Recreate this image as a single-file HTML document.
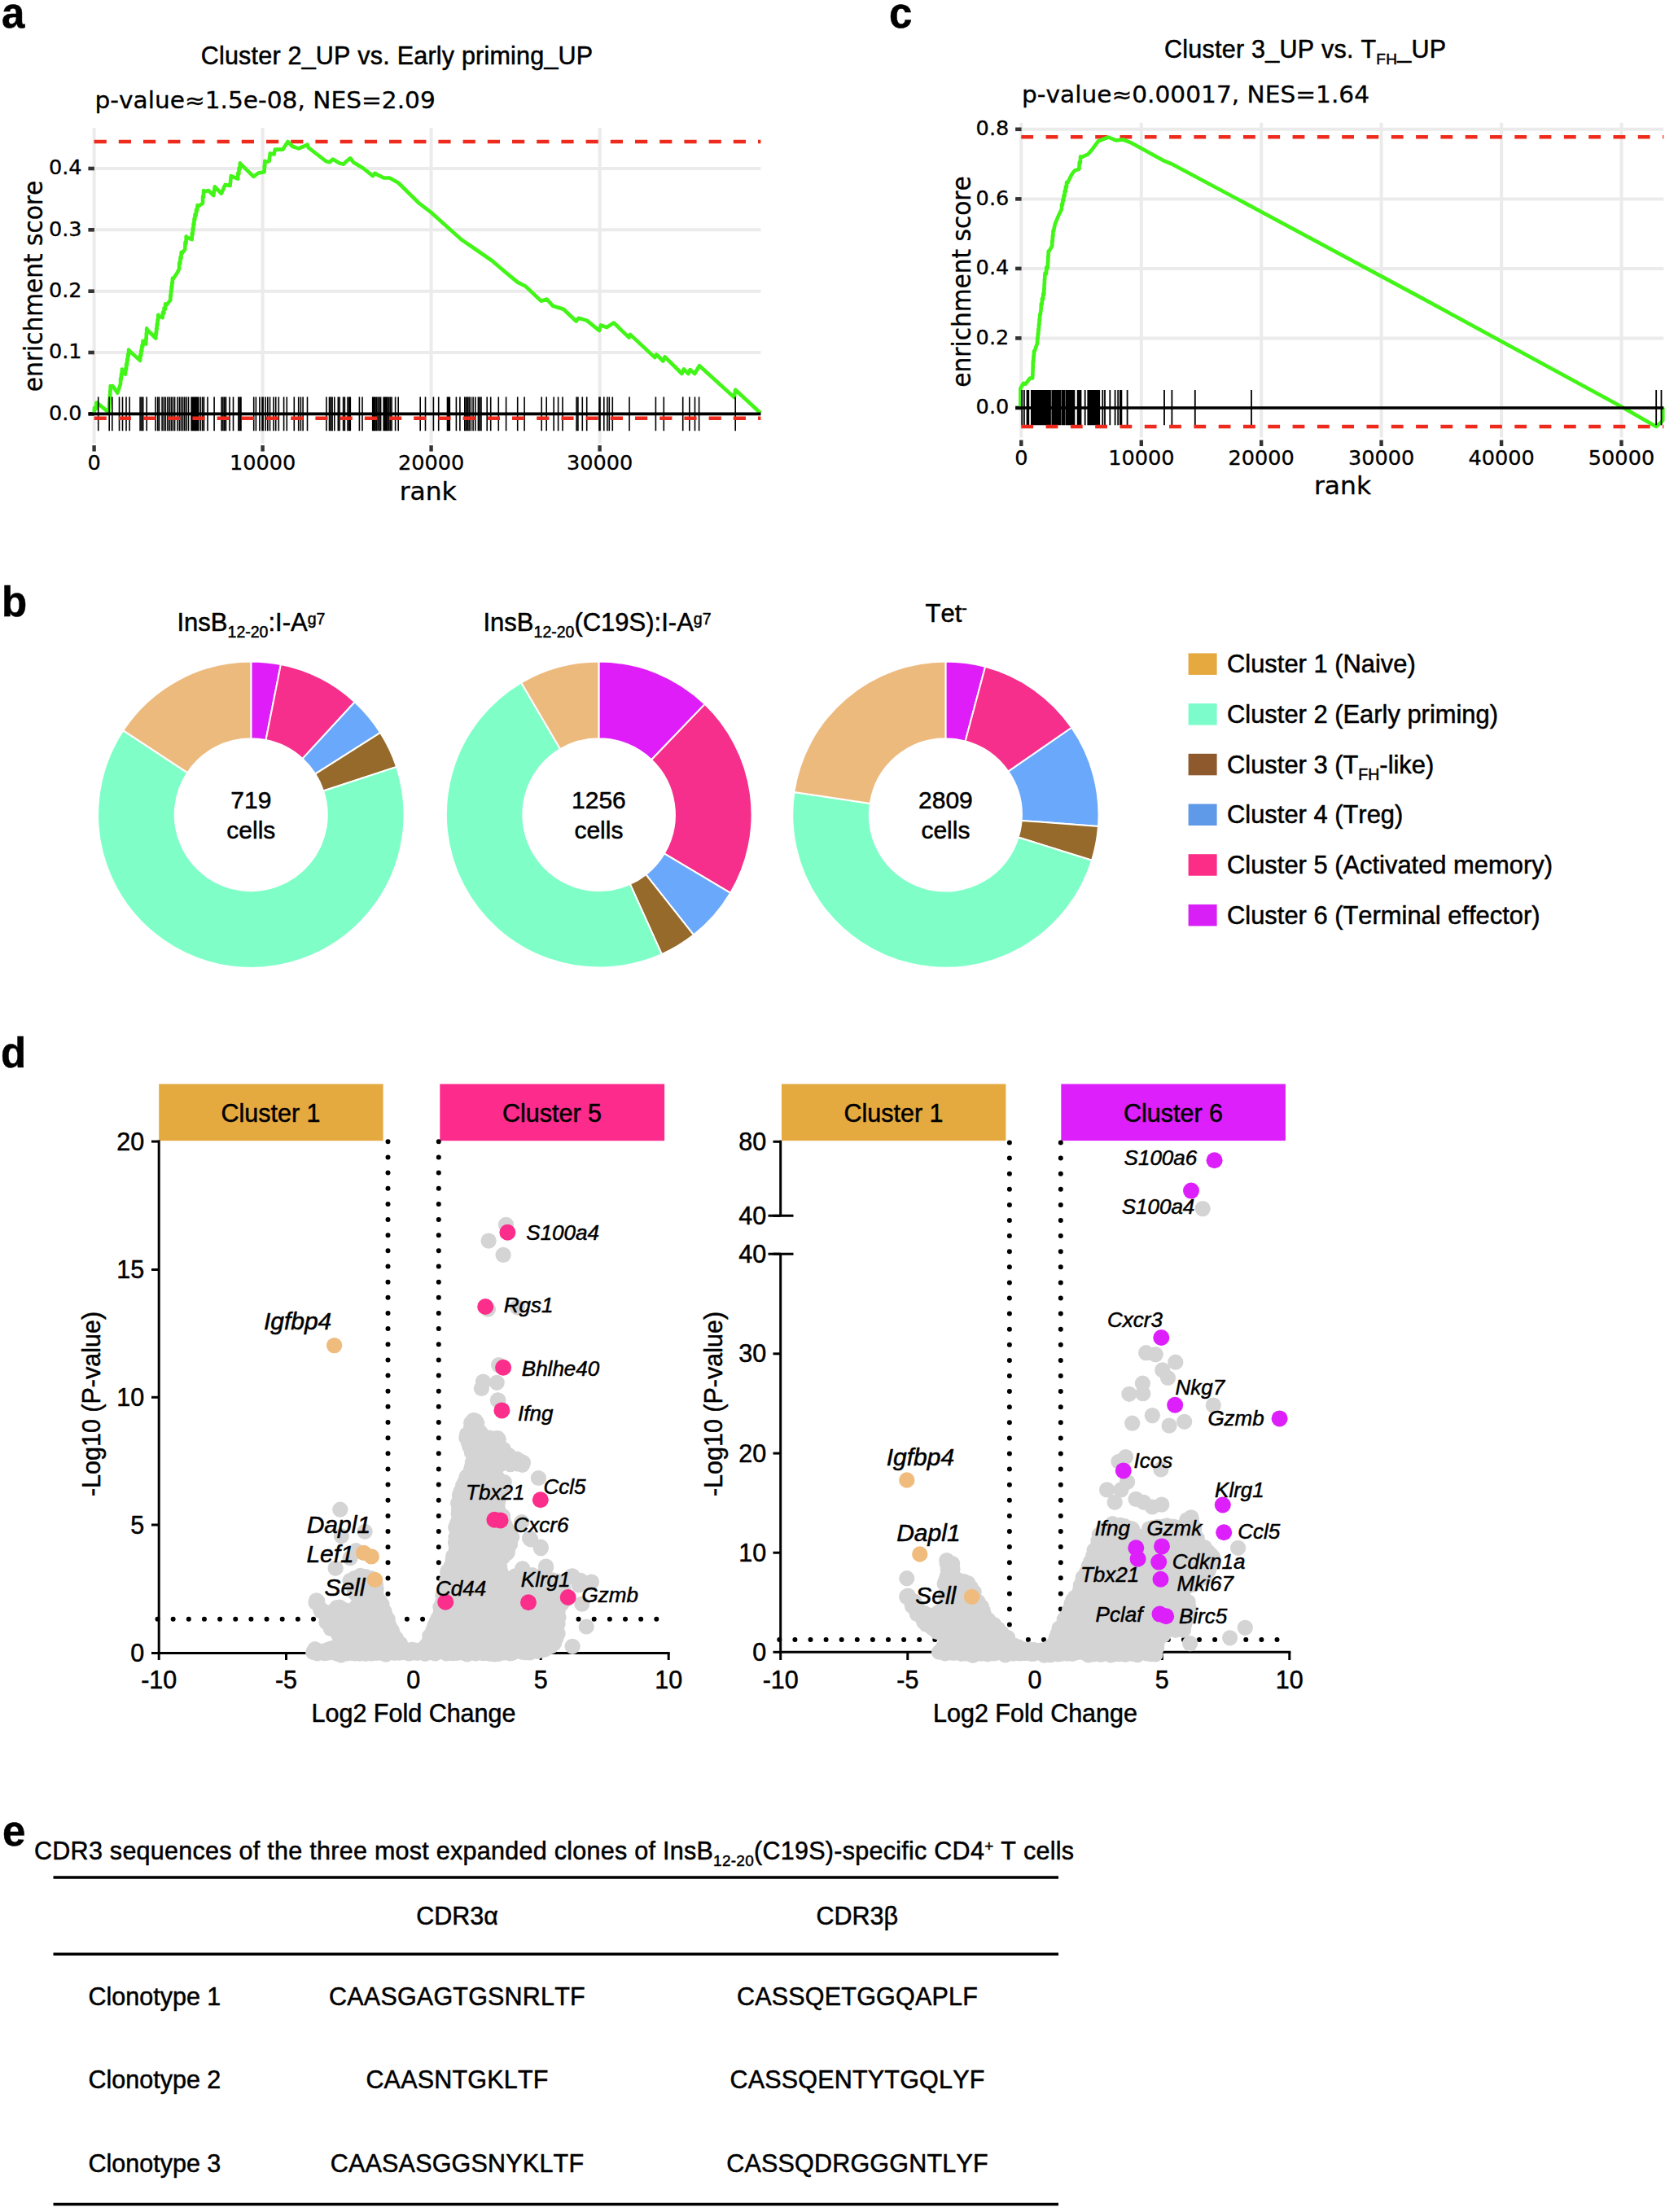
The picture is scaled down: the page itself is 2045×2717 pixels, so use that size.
<!DOCTYPE html>
<html lang="en"><head><meta charset="utf-8"><title>Figure</title>
<style>
html,body{margin:0;padding:0;background:#fff}
svg{display:block}
.a{font-family:"Liberation Sans", Arial, sans-serif;stroke:#000;stroke-width:.5px;stroke-linejoin:round}
.d{font-family:"DejaVu Sans", "Liberation Sans", sans-serif;stroke:#000;stroke-width:.3px}
text{fill:#000;white-space:pre;font-kerning:none}
</style></head><body>
<svg width="2045" height="2717" viewBox="0 0 2045 2717">
<rect width="2045" height="2717" fill="#fff"/>
<line x1="115.6" y1="157" x2="115.6" y2="545" stroke="#ebebeb" stroke-width="4"/>
<line x1="115.6" y1="547" x2="115.6" y2="554.5" stroke="#333" stroke-width="4.4"/>
<line x1="322.6" y1="157" x2="322.6" y2="545" stroke="#ebebeb" stroke-width="4"/>
<line x1="322.6" y1="547" x2="322.6" y2="554.5" stroke="#333" stroke-width="4.4"/>
<line x1="529.6" y1="157" x2="529.6" y2="545" stroke="#ebebeb" stroke-width="4"/>
<line x1="529.6" y1="547" x2="529.6" y2="554.5" stroke="#333" stroke-width="4.4"/>
<line x1="736.6" y1="157" x2="736.6" y2="545" stroke="#ebebeb" stroke-width="4"/>
<line x1="736.6" y1="547" x2="736.6" y2="554.5" stroke="#333" stroke-width="4.4"/>
<line x1="115.6" y1="508.4" x2="934.4" y2="508.4" stroke="#ebebeb" stroke-width="4"/>
<line x1="108.4" y1="508.4" x2="115.9" y2="508.4" stroke="#333" stroke-width="4.6"/>
<text transform="translate(100.6,515.7) scale(1.07,1)" font-size="23.9" class="d" text-anchor="end">0.0</text>
<line x1="115.6" y1="433" x2="934.4" y2="433" stroke="#ebebeb" stroke-width="4"/>
<line x1="108.4" y1="433" x2="115.9" y2="433" stroke="#333" stroke-width="4.6"/>
<text transform="translate(100.6,440.3) scale(1.07,1)" font-size="23.9" class="d" text-anchor="end">0.1</text>
<line x1="115.6" y1="357.7" x2="934.4" y2="357.7" stroke="#ebebeb" stroke-width="4"/>
<line x1="108.4" y1="357.7" x2="115.9" y2="357.7" stroke="#333" stroke-width="4.6"/>
<text transform="translate(100.6,365) scale(1.07,1)" font-size="23.9" class="d" text-anchor="end">0.2</text>
<line x1="115.6" y1="282.3" x2="934.4" y2="282.3" stroke="#ebebeb" stroke-width="4"/>
<line x1="108.4" y1="282.3" x2="115.9" y2="282.3" stroke="#333" stroke-width="4.6"/>
<text transform="translate(100.6,289.6) scale(1.07,1)" font-size="23.9" class="d" text-anchor="end">0.3</text>
<line x1="115.6" y1="207" x2="934.4" y2="207" stroke="#ebebeb" stroke-width="4"/>
<line x1="108.4" y1="207" x2="115.9" y2="207" stroke="#333" stroke-width="4.6"/>
<text transform="translate(100.6,214.3) scale(1.07,1)" font-size="23.9" class="d" text-anchor="end">0.4</text>
<line x1="115.6" y1="174" x2="934.4" y2="174" stroke="#ee2a1d" stroke-width="4.6" stroke-dasharray="15.2 15"/>
<path d="M115.6 508.5 L116 500.8 L118 502.1 L118.4 494.5 L120.4 495.8 L133.6 506.6 L133.7 500.1 L134 501.4 L134.1 494.9 L134.4 496.2 L134.5 489.7 L134.8 491 L134.9 484.4 L135.2 485.7 L135.3 479.2 L135.6 480.5 L135.7 474 L136 475.3 L138.4 474.1 L144.4 482.6 L148 471.7 L148.1 464.8 L148.8 466.1 L149 459.2 L149.7 460.5 L149.8 453.6 L150.5 454.9 L154.1 459.7 L154.2 452.6 L155.1 453.9 L155.2 446.9 L156 448.2 L156.2 441.1 L157 442.4 L157.1 435.4 L157.9 436.7 L158.1 429.6 L158.9 430.9 L172.1 442.9 L172.3 435.9 L173.2 437.2 L173.3 430.2 L174.2 431.5 L174.4 424.5 L175.3 425.8 L175.5 418.8 L176.4 420.1 L179.3 422.5 L179.4 415.3 L179.7 416.6 L179.8 409.3 L180.1 410.6 L180.2 403.4 L180.5 404.7 L191.3 415.5 L191.4 408.7 L192 410 L192.1 403.2 L192.7 404.5 L192.8 397.7 L193.5 399 L193.6 392.2 L194.2 393.5 L194.3 386.7 L194.9 388 L199.7 390.2 L199.9 383.7 L201.3 385 L201.5 378.5 L202.9 379.8 L203.1 373.3 L204.5 374.6 L209.3 368.6 L209.4 362.2 L209.9 363.5 L210 357.1 L210.5 358.4 L210.6 351.9 L211.2 353.2 L211.3 346.8 L211.8 348.1 L211.9 341.7 L212.4 343 L217.7 335 L220.1 330.2 L220.3 322.5 L221.3 323.8 L221.5 316.1 L222.5 317.4 L222.7 309.7 L223.7 311 L227.3 306.2 L227.5 297.6 L228.5 298.9 L228.7 290.4 L229.7 291.7 L235.7 294.1 L235.8 286.8 L236.6 288.1 L236.7 280.8 L237.5 282.1 L237.6 274.8 L238.4 276.1 L238.5 268.8 L239.3 270.1 L239.5 263.2 L240.8 264.5 L241 257.6 L242.2 258.9 L242.5 252 L243.7 253.3 L249 249.7 L249.1 241.2 L249.9 242.5 L250.1 234 L250.9 235.3 L256.2 234.1 L262.2 240.1 L263.8 229.3 L271.8 237.7 L276.6 226.9 L282.6 228.1 L283.8 216.1 L292.2 219.7 L292.4 212.4 L293.4 213.7 L293.6 206.4 L294.6 207.7 L294.8 200.4 L295.8 201.7 L311.4 216.8 L317.4 212.5 L324.6 211.3 L324.7 203.9 L325.2 205.2 L325.3 197.9 L325.8 199.2 L330.6 198 L331.8 188.4 L336.6 189.6 L337.8 183.6 L347.4 183.6 L353.5 174 L359.5 180 L366.7 182.4 L372.7 180 L377.5 177.6 L378.7 181.2 L400.3 198 L405.1 199.2 L408.7 195.6 L417.1 200.4 L421.9 201.7 L425.5 198 L430.3 194.4 L433.9 199.2 L445.9 206.5 L458 216.1 L460.4 212.9 L471.2 218.5 L478.4 218.5 L489.2 224.5 L514.6 249.5 L529.6 261 L566.5 294.1 L589.5 310 L604 320 L621 334.5 L635.7 346.6 L645.8 351.8 L664.5 369.7 L671.7 367.5 L679 375.7 L692 379.8 L707.7 394.5 L710.6 390.7 L720.7 393.6 L736 406 L738 399.4 L745.2 402.2 L753.9 396.5 L772.6 414.6 L774 410.9 L804.3 439.1 L806.3 435.4 L814.4 443.5 L816.7 438.3 L837.5 459 L839.8 453.3 L845.5 459 L847.5 454.1 L853.3 459 L859 449.2 L901.8 488.1 L903.2 478.7 L934.2 507.5" fill="none" stroke="#41f516" stroke-width="4.6" stroke-linejoin="round" stroke-linecap="butt"/>
<path d="M120.7 487.5V529.3M134.2 487.5V529.3M137.8 487.5V529.3M146.5 487.5V529.3M150.5 487.5V529.3M155 487.5V529.3M159.1 487.5V529.3M172.1 487.5V529.3M173.9 487.5V529.3M175.7 487.5V529.3M180.2 487.5V529.3M191 487.5V529.3M193.7 487.5V529.3M195.5 487.5V529.3M199.1 487.5V529.3M201.3 487.5V529.3M203.4 487.5V529.3M205.9 487.5V529.3M208.1 487.5V529.3M210.3 487.5V529.3M212.4 487.5V529.3M214.6 487.5V529.3M218 487.5V529.3M220.4 487.5V529.3M222.5 487.5V529.3M224.7 487.5V529.3M226.8 487.5V529.3M229 487.5V529.3M231.5 487.5V529.3M235.1 487.5V529.3M236.6 487.5V529.3M238 487.5V529.3M239.5 487.5V529.3M240.9 487.5V529.3M242.3 487.5V529.3M243.8 487.5V529.3M246.3 487.5V529.3M248.6 487.5V529.3M250.5 487.5V529.3M255 487.5V529.3M263.1 487.5V529.3M272.1 487.5V529.3M273.9 487.5V529.3M275.7 487.5V529.3M277.5 487.5V529.3M282 487.5V529.3M286.5 487.5V529.3M292.8 487.5V529.3M294.6 487.5V529.3M296 487.5V529.3M311.7 487.5V529.3M314.4 487.5V529.3M318.9 487.5V529.3M322 487.5V529.3M323.1 487.5V529.3M326.1 487.5V529.3M328.8 487.5V529.3M331.5 487.5V529.3M336 487.5V529.3M338.7 487.5V529.3M342.3 487.5V529.3M348.6 487.5V529.3M352.3 487.5V529.3M361.3 487.5V529.3M366.7 487.5V529.3M369.4 487.5V529.3M372.1 487.5V529.3M377.5 487.5V529.3M400.9 487.5V529.3M404.5 487.5V529.3M406.3 487.5V529.3M408.1 487.5V529.3M410.8 487.5V529.3M415.3 487.5V529.3M417.1 487.5V529.3M421.6 487.5V529.3M423.4 487.5V529.3M427 487.5V529.3M428.8 487.5V529.3M430.3 487.5V529.3M441.4 487.5V529.3M445 487.5V529.3M457.7 487.5V529.3M459.1 487.5V529.3M460.5 487.5V529.3M462.2 487.5V529.3M464 487.5V529.3M465.8 487.5V529.3M467.6 487.5V529.3M471.2 487.5V529.3M472.6 487.5V529.3M474.1 487.5V529.3M475.7 487.5V529.3M477.5 487.5V529.3M479.3 487.5V529.3M481.1 487.5V529.3M485.6 487.5V529.3M489.2 487.5V529.3M516.2 487.5V529.3M522.5 487.5V529.3M532.4 487.5V529.3M538.7 487.5V529.3M549.5 487.5V529.3M551 487.5V529.3M552.3 487.5V529.3M560.4 487.5V529.3M564.9 487.5V529.3M570.8 487.5V529.3M572.6 487.5V529.3M574.4 487.5V529.3M576.2 487.5V529.3M578.4 487.5V529.3M581.1 487.5V529.3M583.8 487.5V529.3M587.4 487.5V529.3M589.2 487.5V529.3M591 487.5V529.3M598.2 487.5V529.3M602.7 487.5V529.3M612.3 487.5V529.3M621.6 487.5V529.3M635.7 487.5V529.3M644.1 487.5V529.3M665.2 487.5V529.3M671.2 487.5V529.3M680.2 487.5V529.3M685.6 487.5V529.3M691 487.5V529.3M708.1 487.5V529.3M709.9 487.5V529.3M715.3 487.5V529.3M720.7 487.5V529.3M736 487.5V529.3M737 487.5V529.3M741.8 487.5V529.3M745.9 487.5V529.3M748.3 487.5V529.3M752.3 487.5V529.3M773 487.5V529.3M805.4 487.5V529.3M815.3 487.5V529.3M838.7 487.5V529.3M846.8 487.5V529.3M853.5 487.5V529.3M858.6 487.5V529.3M903.2 487.5V529.3" stroke="#000" stroke-width="1.6" fill="none"/>
<line x1="115.6" y1="513.8" x2="934.4" y2="513.8" stroke="#ee2a1d" stroke-width="4.6" stroke-dasharray="15.2 15"/>
<line x1="108.6" y1="508.4" x2="934.4" y2="508.4" stroke="#000" stroke-width="3.8"/>
<text transform="translate(115.6,577.4) scale(1.07,1)" font-size="23.9" class="d" text-anchor="middle">0</text>
<text transform="translate(322.6,577.4) scale(1.07,1)" font-size="23.9" class="d" text-anchor="middle">10000</text>
<text transform="translate(529.6,577.4) scale(1.07,1)" font-size="23.9" class="d" text-anchor="middle">20000</text>
<text transform="translate(736.6,577.4) scale(1.07,1)" font-size="23.9" class="d" text-anchor="middle">30000</text>
<text transform="translate(525.7,613.5) scale(1.07,1)" font-size="29.3" class="d" text-anchor="middle">rank</text>
<text transform="translate(52.4,351.5) scale(1.07,1) rotate(-90)" font-size="29.6" class="d" text-anchor="middle">enrichment score</text>
<text transform="translate(116.5,132.7) scale(1.07,1)" font-size="27.7" class="d">p-value≈1.5e-08, NES=2.09</text>
<text x="246.7" y="78.7" font-size="30.5" class="a" textLength="481.5" lengthAdjust="spacing">Cluster 2_UP vs. Early priming_UP</text>
<text x="2" y="34.2" font-size="51" class="a" font-weight="bold" stroke-width="0.2">a</text>
<line x1="1254.3" y1="150.8" x2="1254.3" y2="537.5" stroke="#ebebeb" stroke-width="4"/>
<line x1="1254.3" y1="540.5" x2="1254.3" y2="548.0" stroke="#333" stroke-width="4.4"/>
<line x1="1401.8" y1="150.8" x2="1401.8" y2="537.5" stroke="#ebebeb" stroke-width="4"/>
<line x1="1401.8" y1="540.5" x2="1401.8" y2="548.0" stroke="#333" stroke-width="4.4"/>
<line x1="1549.2" y1="150.8" x2="1549.2" y2="537.5" stroke="#ebebeb" stroke-width="4"/>
<line x1="1549.2" y1="540.5" x2="1549.2" y2="548.0" stroke="#333" stroke-width="4.4"/>
<line x1="1696.6" y1="150.8" x2="1696.6" y2="537.5" stroke="#ebebeb" stroke-width="4"/>
<line x1="1696.6" y1="540.5" x2="1696.6" y2="548.0" stroke="#333" stroke-width="4.4"/>
<line x1="1844.1" y1="150.8" x2="1844.1" y2="537.5" stroke="#ebebeb" stroke-width="4"/>
<line x1="1844.1" y1="540.5" x2="1844.1" y2="548.0" stroke="#333" stroke-width="4.4"/>
<line x1="1991.5" y1="150.8" x2="1991.5" y2="537.5" stroke="#ebebeb" stroke-width="4"/>
<line x1="1991.5" y1="540.5" x2="1991.5" y2="548.0" stroke="#333" stroke-width="4.4"/>
<line x1="1254.3" y1="501" x2="2043.3" y2="501" stroke="#ebebeb" stroke-width="4"/>
<line x1="1247.1" y1="501" x2="1254.6" y2="501" stroke="#333" stroke-width="4.6"/>
<text transform="translate(1239.3,508.3) scale(1.07,1)" font-size="23.9" class="d" text-anchor="end">0.0</text>
<line x1="1254.3" y1="415.4" x2="2043.3" y2="415.4" stroke="#ebebeb" stroke-width="4"/>
<line x1="1247.1" y1="415.4" x2="1254.6" y2="415.4" stroke="#333" stroke-width="4.6"/>
<text transform="translate(1239.3,422.8) scale(1.07,1)" font-size="23.9" class="d" text-anchor="end">0.2</text>
<line x1="1254.3" y1="329.9" x2="2043.3" y2="329.9" stroke="#ebebeb" stroke-width="4"/>
<line x1="1247.1" y1="329.9" x2="1254.6" y2="329.9" stroke="#333" stroke-width="4.6"/>
<text transform="translate(1239.3,337.2) scale(1.07,1)" font-size="23.9" class="d" text-anchor="end">0.4</text>
<line x1="1254.3" y1="244.4" x2="2043.3" y2="244.4" stroke="#ebebeb" stroke-width="4"/>
<line x1="1247.1" y1="244.4" x2="1254.6" y2="244.4" stroke="#333" stroke-width="4.6"/>
<text transform="translate(1239.3,251.7) scale(1.07,1)" font-size="23.9" class="d" text-anchor="end">0.6</text>
<line x1="1254.3" y1="158.8" x2="2043.3" y2="158.8" stroke="#ebebeb" stroke-width="4"/>
<line x1="1247.1" y1="158.8" x2="1254.6" y2="158.8" stroke="#333" stroke-width="4.6"/>
<text transform="translate(1239.3,166.1) scale(1.07,1)" font-size="23.9" class="d" text-anchor="end">0.8</text>
<line x1="1254.3" y1="168.3" x2="2043.3" y2="168.3" stroke="#ee2a1d" stroke-width="4.6" stroke-dasharray="14.8 15.5"/>
<path d="M1253.4 500 L1253.4 477.1 L1257 470.8 L1259.7 471.7 L1265.1 464.5 L1268.2 464.5 L1268.7 450.1 L1268.8 443.2 L1269.3 444.1 L1269.4 437.2 L1269.9 438.1 L1270 431.2 L1270.5 432.1 L1274.1 421.3 L1274.2 415 L1274.7 415.9 L1274.8 409.5 L1275.3 410.4 L1275.4 404.1 L1275.9 405 L1276 398.1 L1276.5 399 L1276.6 392.1 L1277.1 393 L1277.2 386.1 L1277.7 387 L1278.6 380 L1278.8 373 L1279.8 373.9 L1280 366.8 L1281.1 367.7 L1281.3 360.7 L1282.3 361.6 L1282.3 354.7 L1282.6 355.6 L1282.6 348.7 L1282.9 349.6 L1282.9 342.7 L1283.2 343.6 L1283.5 335.5 L1285 336.4 L1285.3 328.3 L1286.8 329.2 L1286.9 321.7 L1287.2 322.6 L1287.3 315.1 L1287.6 316 L1287.7 308.5 L1288 309.4 L1292.2 302.2 L1292.3 295.3 L1292.8 296.2 L1292.9 289.2 L1293.4 290.1 L1293.5 283.2 L1294 284.1 L1295.8 275.1 L1300.3 264.3 L1303.9 257.1 L1304.1 250.8 L1305.1 251.7 L1305.3 245.4 L1306.3 246.3 L1306.5 240 L1307.5 240.9 L1307.7 234.6 L1308.7 235.5 L1308.9 229.2 L1309.9 230.1 L1310.1 223.8 L1311.1 224.7 L1316.5 213.9 L1320.1 209.4 L1325.5 207.6 L1325.7 199.5 L1326.8 200.4 L1327.1 192.3 L1328.2 193.2 L1336.3 189.5 L1341.7 183.2 L1348.9 173.3 L1356.1 170.6 L1361.5 168.5 L1370.5 172.4 L1379.5 171.5 L1388.6 175.1 L1428.2 196.8 L1440.8 202.2 L1530 249.9 L1745 365.4 L1991.5 499.6 L2034.2 524 L2040.5 518.6 L2042.3 516 L2042.3 500.5" fill="none" stroke="#41f516" stroke-width="4.6" stroke-linejoin="round"/>
<line x1="1247.3" y1="501" x2="2043.3" y2="501" stroke="#000" stroke-width="3.6"/>
<path d="M1255.2 479V522.3M1257.9 479V522.3M1261.5 479V522.3M1263.3 479V522.3M1266.9 479V522.3M1268.7 479V522.3M1270 479V522.3M1271.3 479V522.3M1272.5 479V522.3M1273.8 479V522.3M1275 479V522.3M1276.3 479V522.3M1277.6 479V522.3M1278.8 479V522.3M1280.1 479V522.3M1281.4 479V522.3M1282.6 479V522.3M1283.9 479V522.3M1285 479V522.3M1286.2 479V522.3M1287.5 479V522.3M1288.7 479V522.3M1290 479V522.3M1292.3 479V522.3M1293.6 479V522.3M1294.9 479V522.3M1296.1 479V522.3M1297.4 479V522.3M1298.6 479V522.3M1299.9 479V522.3M1301.2 479V522.3M1302.4 479V522.3M1304.6 479V522.3M1305.9 479V522.3M1307.1 479V522.3M1309.3 479V522.3M1310.5 479V522.3M1311.8 479V522.3M1313.1 479V522.3M1314.3 479V522.3M1315.6 479V522.3M1316.8 479V522.3M1318.1 479V522.3M1319.4 479V522.3M1323.7 479V522.3M1325 479V522.3M1326.2 479V522.3M1327.5 479V522.3M1332.7 479V522.3M1336.3 479V522.3M1337.7 479V522.3M1339 479V522.3M1340.8 479V522.3M1342.6 479V522.3M1343.9 479V522.3M1345.1 479V522.3M1346.4 479V522.3M1347.7 479V522.3M1348.9 479V522.3M1350.2 479V522.3M1354.3 479V522.3M1357 479V522.3M1363.3 479V522.3M1369.6 479V522.3M1373.2 479V522.3M1375.9 479V522.3M1377.4 479V522.3M1384.6 479V522.3M1430 479V522.3M1439.4 479V522.3M1467.8 479V522.3M1537 479V522.3M2034.2 479V522.3M2040.5 479V522.3" stroke="#000" stroke-width="1.8" fill="none"/>
<line x1="1254.3" y1="524" x2="2043.3" y2="524" stroke="#ee2a1d" stroke-width="4.6" stroke-dasharray="14.8 15.5"/>
<text transform="translate(1254.3,571) scale(1.07,1)" font-size="23.9" class="d" text-anchor="middle">0</text>
<text transform="translate(1401.8,571) scale(1.07,1)" font-size="23.9" class="d" text-anchor="middle">10000</text>
<text transform="translate(1549.2,571) scale(1.07,1)" font-size="23.9" class="d" text-anchor="middle">20000</text>
<text transform="translate(1696.6,571) scale(1.07,1)" font-size="23.9" class="d" text-anchor="middle">30000</text>
<text transform="translate(1844.1,571) scale(1.07,1)" font-size="23.9" class="d" text-anchor="middle">40000</text>
<text transform="translate(1991.5,571) scale(1.07,1)" font-size="23.9" class="d" text-anchor="middle">50000</text>
<text transform="translate(1649,606.7) scale(1.07,1)" font-size="29.3" class="d" text-anchor="middle">rank</text>
<text transform="translate(1191.5,346) scale(1.07,1) rotate(-90)" font-size="29.6" class="d" text-anchor="middle">enrichment score</text>
<text transform="translate(1255,126) scale(1.07,1)" font-size="27.7" class="d">p-value≈0.00017, NES=1.64</text>
<text x="1430" y="71.4" font-size="30.5" class="a" textLength="346" lengthAdjust="spacing">Cluster 3_UP vs. T<tspan font-size="19" dy="8">FH</tspan><tspan dy="-8">_UP</tspan></text>
<text x="1092" y="34.2" font-size="51" class="a" font-weight="bold" stroke-width="0.2">c</text>
<path d="M308.3 812.5A188.2 188.2 0 0 1 344.9 816.1L326.5 909A93.5 93.5 0 0 0 308.3 907.2Z" fill="#df1df9" stroke="#fff" stroke-width="2" stroke-linejoin="round"/>
<path d="M344.9 816.1A188.2 188.2 0 0 1 435.7 862.2L371.6 931.9A93.5 93.5 0 0 0 326.5 909Z" fill="#f72f8c" stroke="#fff" stroke-width="2" stroke-linejoin="round"/>
<path d="M435.7 862.2A188.2 188.2 0 0 1 467.2 899.9L387.2 950.6A93.5 93.5 0 0 0 371.6 931.9Z" fill="#6aa8fb" stroke="#fff" stroke-width="2" stroke-linejoin="round"/>
<path d="M467.2 899.9A188.2 188.2 0 0 1 487.1 941.9L397.1 971.5A93.5 93.5 0 0 0 387.2 950.6Z" fill="#966a2a" stroke="#fff" stroke-width="2" stroke-linejoin="round"/>
<path d="M487.1 941.9A188.2 188.2 0 1 1 151.2 897.1L230.2 949.2A93.5 93.5 0 1 0 397.1 971.5Z" fill="#7fffc7" stroke="#fff" stroke-width="2" stroke-linejoin="round"/>
<path d="M151.2 897.1A188.2 188.2 0 0 1 308.3 812.5L308.3 907.2A93.5 93.5 0 0 0 230.2 949.2Z" fill="#edba7e" stroke="#fff" stroke-width="2" stroke-linejoin="round"/>
<text x="308.3" y="993.3" font-size="30" class="a" text-anchor="middle">719</text>
<text x="308.3" y="1030" font-size="30" class="a" text-anchor="middle">cells</text>
<path d="M735.4 812.5A188.2 188.2 0 0 1 865.7 864.9L800.1 933.2A93.5 93.5 0 0 0 735.4 907.2Z" fill="#df1df9" stroke="#fff" stroke-width="2" stroke-linejoin="round"/>
<path d="M865.7 864.9A188.2 188.2 0 0 1 897.2 1096.8L815.8 1048.4A93.5 93.5 0 0 0 800.1 933.2Z" fill="#f72f8c" stroke="#fff" stroke-width="2" stroke-linejoin="round"/>
<path d="M897.2 1096.8A188.2 188.2 0 0 1 852 1148.4L793.3 1074.1A93.5 93.5 0 0 0 815.8 1048.4Z" fill="#6aa8fb" stroke="#fff" stroke-width="2" stroke-linejoin="round"/>
<path d="M852 1148.4A188.2 188.2 0 0 1 812.8 1172.2L773.9 1085.9A93.5 93.5 0 0 0 793.3 1074.1Z" fill="#966a2a" stroke="#fff" stroke-width="2" stroke-linejoin="round"/>
<path d="M812.8 1172.2A188.2 188.2 0 0 1 640.2 838.4L688.1 920.1A93.5 93.5 0 0 0 773.9 1085.9Z" fill="#7fffc7" stroke="#fff" stroke-width="2" stroke-linejoin="round"/>
<path d="M640.2 838.4A188.2 188.2 0 0 1 735.4 812.5L735.4 907.2A93.5 93.5 0 0 0 688.1 920.1Z" fill="#edba7e" stroke="#fff" stroke-width="2" stroke-linejoin="round"/>
<text x="735.4" y="993.3" font-size="30" class="a" text-anchor="middle">1256</text>
<text x="735.4" y="1030" font-size="30" class="a" text-anchor="middle">cells</text>
<path d="M1161.4 812.5A188.2 188.2 0 0 1 1210.1 818.9L1185.6 910.4A93.5 93.5 0 0 0 1161.4 907.2Z" fill="#df1df9" stroke="#fff" stroke-width="2" stroke-linejoin="round"/>
<path d="M1210.1 818.9A188.2 188.2 0 0 1 1316.3 893.8L1238.4 947.6A93.5 93.5 0 0 0 1185.6 910.4Z" fill="#f72f8c" stroke="#fff" stroke-width="2" stroke-linejoin="round"/>
<path d="M1316.3 893.8A188.2 188.2 0 0 1 1349 1015.1L1254.6 1007.9A93.5 93.5 0 0 0 1238.4 947.6Z" fill="#6aa8fb" stroke="#fff" stroke-width="2" stroke-linejoin="round"/>
<path d="M1349 1015.1A188.2 188.2 0 0 1 1341.1 1056.7L1250.7 1028.5A93.5 93.5 0 0 0 1254.6 1007.9Z" fill="#966a2a" stroke="#fff" stroke-width="2" stroke-linejoin="round"/>
<path d="M1341.1 1056.7A188.2 188.2 0 0 1 975.3 972.9L1068.9 986.9A93.5 93.5 0 0 0 1250.7 1028.5Z" fill="#7fffc7" stroke="#fff" stroke-width="2" stroke-linejoin="round"/>
<path d="M975.3 972.9A188.2 188.2 0 0 1 1161.4 812.5L1161.4 907.2A93.5 93.5 0 0 0 1068.9 986.9Z" fill="#edba7e" stroke="#fff" stroke-width="2" stroke-linejoin="round"/>
<text x="1161.4" y="993.3" font-size="30" class="a" text-anchor="middle">2809</text>
<text x="1161.4" y="1030" font-size="30" class="a" text-anchor="middle">cells</text>
<text x="217.5" y="774.5" font-size="31" class="a">InsB<tspan font-size="19.5" dy="8">12-20</tspan><tspan dy="-8">:I-A</tspan><tspan font-size="19.5" dy="-8">g7</tspan></text>
<text x="593.5" y="774.5" font-size="31" class="a">InsB<tspan font-size="19.5" dy="8">12-20</tspan><tspan dy="-8">(C19S):I-A</tspan><tspan font-size="19.5" dy="-8">g7</tspan></text>
<text x="1136.5" y="764" font-size="31" class="a">Tet<tspan font-size="19.5" dy="-10">-</tspan></text>
<text x="2" y="757.3" font-size="51" class="a" font-weight="bold" stroke-width="0.2">b</text>
<rect x="1459.6" y="802.4" width="35" height="26.5" fill="#e5a93f"/>
<text x="1507" y="826.1" font-size="30.9" class="a">Cluster 1 (Naive)</text>
<rect x="1459.6" y="864.1" width="35" height="26.5" fill="#7dfccb"/>
<text x="1507" y="887.8" font-size="30.9" class="a">Cluster 2 (Early priming)</text>
<rect x="1459.6" y="925.8" width="35" height="26.5" fill="#8e5a2d"/>
<text x="1507" y="949.5" font-size="30.9" class="a">Cluster 3 (T<tspan font-size="19.5" dy="8">FH</tspan><tspan dy="-8">-like)</tspan></text>
<rect x="1459.6" y="987.5" width="35" height="26.5" fill="#5f9ae8"/>
<text x="1507" y="1011.2" font-size="30.9" class="a">Cluster 4 (Treg)</text>
<rect x="1459.6" y="1049.2" width="35" height="26.5" fill="#fb2d86"/>
<text x="1507" y="1072.9" font-size="30.9" class="a">Cluster 5 (Activated memory)</text>
<rect x="1459.6" y="1110.9" width="35" height="26.5" fill="#d81ff5"/>
<text x="1507" y="1134.6" font-size="30.9" class="a">Cluster 6 (Terminal effector)</text>
<rect x="195.2" y="1331.5" width="275.4" height="69.7" fill="#e5aa3f"/>
<rect x="540.3" y="1331.5" width="275.8" height="69.7" fill="#fd2b8c"/>
<text x="332.5" y="1377.5" font-size="30.5" class="a" text-anchor="middle">Cluster 1</text>
<text x="678" y="1377.5" font-size="30.5" class="a" text-anchor="middle">Cluster 5</text>
<path d="M195.2 1400.6V2030.5H822.7" fill="none" stroke="#000" stroke-width="3" stroke-linejoin="miter"/>
<line x1="186" y1="1402.1" x2="195.2" y2="1402.1" stroke="#000" stroke-width="3"/>
<text x="177.3" y="1412.6" font-size="30.5" class="a" text-anchor="end">20</text>
<line x1="186" y1="1559.5" x2="195.2" y2="1559.5" stroke="#000" stroke-width="3"/>
<text x="177.3" y="1570" font-size="30.5" class="a" text-anchor="end">15</text>
<line x1="186" y1="1716.3" x2="195.2" y2="1716.3" stroke="#000" stroke-width="3"/>
<text x="177.3" y="1726.8" font-size="30.5" class="a" text-anchor="end">10</text>
<line x1="186" y1="1873" x2="195.2" y2="1873" stroke="#000" stroke-width="3"/>
<text x="177.3" y="1883.5" font-size="30.5" class="a" text-anchor="end">5</text>
<line x1="186" y1="2030.5" x2="195.2" y2="2030.5" stroke="#000" stroke-width="3"/>
<text x="177.3" y="2041" font-size="30.5" class="a" text-anchor="end">0</text>
<line x1="195.2" y1="2030.5" x2="195.2" y2="2039" stroke="#000" stroke-width="3"/>
<text x="195.2" y="2074" font-size="30.5" class="a" text-anchor="middle">-10</text>
<line x1="351.5" y1="2030.5" x2="351.5" y2="2039" stroke="#000" stroke-width="3"/>
<text x="351.5" y="2074" font-size="30.5" class="a" text-anchor="middle">-5</text>
<line x1="507.8" y1="2030.5" x2="507.8" y2="2039" stroke="#000" stroke-width="3"/>
<text x="507.8" y="2074" font-size="30.5" class="a" text-anchor="middle">0</text>
<line x1="664.2" y1="2030.5" x2="664.2" y2="2039" stroke="#000" stroke-width="3"/>
<text x="664.2" y="2074" font-size="30.5" class="a" text-anchor="middle">5</text>
<line x1="821.2" y1="2030.5" x2="821.2" y2="2039" stroke="#000" stroke-width="3"/>
<text x="821.2" y="2074" font-size="30.5" class="a" text-anchor="middle">10</text>
<text x="508" y="2115.2" font-size="30.5" class="a" text-anchor="middle">Log2 Fold Change</text>
<text transform="translate(123,1724.5) rotate(-90)" font-size="30.5" class="a" text-anchor="middle">-Log10 (P-value)</text>
<line x1="476.5" y1="1402.3" x2="476.5" y2="2000" stroke="#000" stroke-width="6" stroke-linecap="round" stroke-dasharray="0 19.15"/>
<line x1="538.8" y1="1402.3" x2="538.8" y2="1990" stroke="#000" stroke-width="6" stroke-linecap="round" stroke-dasharray="0 19.15"/>
<line x1="193.5" y1="1988.7" x2="815" y2="1988.7" stroke="#000" stroke-width="6" stroke-linecap="round" stroke-dasharray="0 19.15"/>
<path d="M383.7 2030.4L383.7 2031L647.1 2031L675.6 2024.8L682.6 2016.4L685 2004.2L685 1990L685 1989.3L686 1977.3L686.1 1976.5L686.3 1975.8L686.6 1975L686.9 1974.3L687.3 1973.6L687.8 1972.9L688.4 1972.4L695.8 1964.9L695.2 1953.2L685.7 1942.2L658.6 1935.9L636.8 1933.3L629.1 1937.9L628.4 1938.2L627.7 1938.5L626.9 1938.8L626.1 1938.9L625.3 1939L624.5 1939L621.3 1938.8L620.6 1938.7L619.8 1938.6L619.1 1938.3L618.4 1938L617.7 1937.7L617.1 1937.2L616.5 1936.8L615.9 1936.2L615.4 1935.6L615 1935L614.6 1934.3L614.3 1933.6L614.1 1932.9L613.9 1932.1L613.8 1931.4L612.9 1918.8L612.9 1918L613 1917.2L613.1 1916.4L613.3 1915.7L613.6 1914.9L614 1914.2L614.4 1913.6L614.9 1913L615.4 1912.4L616 1911.9L616.6 1911.4L617.3 1911.1L624.1 1907.7L624.6 1907.3L623.9 1903.5L623.8 1902.8L623.7 1902L623.8 1901.3L623.9 1900.5L624 1899.7L624.3 1899L627.3 1891.4L627.3 1885L621.9 1878.1L621.4 1877.5L621 1876.8L620.7 1876.1L620.4 1875.3L617 1863.4L612 1853.3L611.6 1852.6L611.4 1851.8L611.2 1851.1L611.1 1850.3L611.1 1849.5L611.2 1848.7L613 1834.3L613.1 1833.5L613.3 1832.8L613.6 1832.1L614 1831.4L619.3 1822.1L618.2 1819.5L610.1 1815.4L609.5 1815.1L608.8 1814.6L608.2 1814.1L607.7 1813.6L607.2 1813L606.8 1812.3L606.4 1811.6L606.2 1810.9L605.9 1810.2L605.8 1809.4L605.7 1808.7L605.7 1807.9L605.8 1807.1L605.9 1806.4L606.2 1805.6L606.4 1804.9L606.8 1804.3L607.2 1803.6L607.7 1803L608.2 1802.5L608.8 1802L609.5 1801.5L610.1 1801.1L617.3 1797.5L618.1 1797.2L618.9 1797L619.7 1796.8L620.5 1796.7L621.4 1796.7L622.2 1796.8L632.4 1798.5L641.5 1798.5L642.3 1797.2L638.3 1793.6L625.3 1788.7L624.5 1788.4L623.8 1788L623.1 1787.5L622.5 1786.9L617.1 1781.5L616.5 1780.9L616 1780.2L615.6 1779.5L615.3 1778.8L615 1778L614.8 1777.2L613.5 1769.4L609.1 1765.8L601.1 1765.8L600.3 1765.8L599.6 1765.7L598.9 1765.5L598.2 1765.3L597.5 1765L596.9 1764.6L596.3 1764.2L589.1 1758.8L588.5 1758.3L587.9 1757.7L587.4 1757.1L587 1756.4L586.6 1755.7L586.3 1755L586.1 1754.2L585.9 1753.4L584.8 1744.2L583.1 1743.7L581.1 1744.2L580.1 1750.1L580 1750.9L579.7 1751.6L579.4 1752.3L579.1 1753L578.6 1753.6L571.9 1762.7L571.4 1766.9L577.4 1777.3L577.7 1777.9L578 1778.6L578.2 1779.3L581.8 1793.7L582 1794.5L582 1795.2L582 1796L582 1796.8L581.8 1797.5L581.6 1798.3L581.3 1799L581 1799.6L574 1811.9L567.3 1826.9L564 1843.6L562.2 1864.7L560.4 1891.7L560.3 1892.5L560.1 1893.4L560.1 1893.5L558.9 1904.8L558.8 1905.7L558.6 1906.6L555 1917.4L554.7 1918.1L550.4 1927.8L549.3 1936.2L549.2 1936.8L546.8 1948.8L546.7 1949.2L544.4 1958.6L542 1970.5L541.8 1971.2L538.2 1983.2L538.2 1983.4L533.3 1997.8L528.5 2012.3L528.1 2013.3L523.3 2022.9L522.9 2023.6L522.4 2024.3L521.9 2024.9L521.3 2025.4L520.7 2025.9L520 2026.3L519.3 2026.7L518.5 2027L517.8 2027.2L517 2027.3L516.2 2027.3L500.5 2027.3L499.7 2027.3L499 2027.2L498.2 2027L497.4 2026.7L496.7 2026.4L496 2025.9L495.4 2025.5L494.8 2024.9L494.3 2024.3L489.5 2018.3L489 2017.6L488.6 2016.9L482.6 2004.9L482.5 2004.6L476.4 1991.4L476.3 1991.1L471.6 1979.4L465.8 1967.7L465.5 1967L465.2 1966.3L465.1 1965.7L462.7 1953.6L462.6 1953.1L462.5 1952.5L462.1 1943.4L458 1939L455 1939.5L454.2 1939.6L453.4 1939.6L452.6 1939.6L451.9 1939.4L451.1 1939.2L450.4 1938.9L449.7 1938.6L445.3 1936L437.6 1937.9L431.7 1941.6L430.9 1944.4L434.6 1953.6L439.2 1962.9L439.5 1963.6L439.8 1964.3L439.9 1965L440 1965.8L440.1 1966.5L440 1967.3L439.9 1968L439.7 1968.7L439.5 1969.5L437.1 1975.5L436.8 1976.2L436.4 1976.8L435.9 1977.5L435.4 1978.1L434.8 1978.6L434.2 1979.1L433.6 1979.5L432.9 1979.8L432.1 1980.1L431.4 1980.3L430.6 1980.4L429.9 1980.5L429.1 1980.5L428.3 1980.4L427.5 1980.2L426.8 1980L426.1 1979.6L418.9 1976L418.3 1975.7L417.7 1975.3L413.5 1972.2L413.2 1972.2L411.3 1975.4L410.8 1976.1L410.3 1976.7L409.7 1977.3L409.1 1977.8L408.4 1978.2L407.6 1978.6L406.9 1978.9L406.1 1979.1L405.3 1979.2L404.4 1979.3L399.6 1979.3L398.9 1979.2L398.1 1979.1L397.4 1979L396.6 1978.7L395.9 1978.4L395.7 1978.2L398.7 1980.8L399.3 1981.3L399.9 1981.9L400.3 1982.6L400.7 1983.2L401.1 1984L401.3 1984.7L401.5 1985.5L401.6 1986.3L401.6 1987.1L401.6 1987.9L401.4 1988.7L401.2 1989.4L399.9 1993.3L401.8 1996.5L409.2 2000.2L409.9 2000.6L410.6 2001.1L411.2 2001.6L411.8 2002.2L412.3 2002.9L417.1 2010.1L417.5 2010.8L417.8 2011.5L418.1 2012.2L418.3 2012.9L418.4 2013.7L418.4 2014.5L418.4 2015.2L418.3 2016L418.1 2016.8L417.9 2017.5L417.6 2018.2L417.2 2018.9L416.7 2019.5L416.2 2020.1L415.6 2020.6L415 2021.1L414.4 2021.5L413.7 2021.8L402.9 2026.6L402.2 2026.9L401.5 2027.1L400.8 2027.2L400.1 2027.3L399.4 2027.3L398.6 2027.3L390.4 2026.2L385 2027.5L383.7 2030.4Z" fill="#d4d4d4" stroke="#d4d4d4" stroke-width="10.3" stroke-linejoin="round"/>
<path d="M393.5 1976.4L393.1 1975.9L392.7 1975.2L392.3 1974.5L392.1 1973.8L389.5 1966.1L388.5 1965.6L388.1 1965.9L388 1967.2L392.7 1975.7L393.5 1976.4Z" fill="#d4d4d4" stroke="#d4d4d4" stroke-width="10.3" stroke-linejoin="round"/>
<g fill="#d4d4d4"><circle cx="384.7" cy="2029.6" r="9.4"/><circle cx="389.7" cy="2031" r="9.4"/><circle cx="398.8" cy="2030.8" r="9.4"/><circle cx="403.3" cy="2030.2" r="9.4"/><circle cx="413.2" cy="2031" r="9.4"/><circle cx="418.8" cy="2033.1" r="9.4"/><circle cx="425.8" cy="2031" r="9.4"/><circle cx="431.7" cy="2030.7" r="9.4"/><circle cx="436.1" cy="2031" r="9.4"/><circle cx="441.7" cy="2031.4" r="9.4"/><circle cx="449.3" cy="2031.5" r="9.4"/><circle cx="456.6" cy="2031.1" r="9.4"/><circle cx="463.3" cy="2030.5" r="9.4"/><circle cx="470.5" cy="2030.9" r="9.4"/><circle cx="474.1" cy="2032.4" r="9.4"/><circle cx="484.6" cy="2030.6" r="9.4"/><circle cx="490.4" cy="2030.4" r="9.4"/><circle cx="497.7" cy="2029.8" r="9.4"/><circle cx="502.4" cy="2031" r="9.4"/><circle cx="508.3" cy="2030.1" r="9.4"/><circle cx="512.8" cy="2030.5" r="9.4"/><circle cx="522" cy="2031.7" r="9.4"/><circle cx="528.8" cy="2029.9" r="9.4"/><circle cx="534.6" cy="2031" r="9.4"/><circle cx="539.2" cy="2028.9" r="9.4"/><circle cx="548.2" cy="2031.2" r="9.4"/><circle cx="556.3" cy="2030.8" r="9.4"/><circle cx="561.6" cy="2030.6" r="9.4"/><circle cx="569" cy="2030.6" r="9.4"/><circle cx="573.9" cy="2032.2" r="9.4"/><circle cx="584.2" cy="2031.1" r="9.4"/><circle cx="589.7" cy="2029.9" r="9.4"/><circle cx="593.8" cy="2030.9" r="9.4"/><circle cx="601.8" cy="2031.7" r="9.4"/><circle cx="607.4" cy="2032.1" r="9.4"/><circle cx="612.8" cy="2031.6" r="9.4"/><circle cx="619.1" cy="2030.1" r="9.4"/><circle cx="626.7" cy="2031.1" r="9.4"/><circle cx="630" cy="2030.1" r="9.4"/><circle cx="641.1" cy="2029.3" r="9.4"/><circle cx="645.8" cy="2029.8" r="9.4"/><circle cx="650.8" cy="2030.2" r="9.4"/><circle cx="659.7" cy="2028.5" r="9.4"/><circle cx="665.5" cy="2027.1" r="9.4"/><circle cx="669.8" cy="2025.9" r="9.4"/><circle cx="676.3" cy="2022.7" r="9.4"/><circle cx="680.7" cy="2018.6" r="9.4"/><circle cx="683" cy="2012.7" r="9.4"/><circle cx="685.3" cy="2006.5" r="9.4"/><circle cx="683.6" cy="1999.2" r="9.4"/><circle cx="685.3" cy="1994.6" r="9.4"/><circle cx="686.2" cy="1986.6" r="9.4"/><circle cx="685.4" cy="1978.8" r="9.4"/><circle cx="689" cy="1970.9" r="9.4"/><circle cx="690.7" cy="1968.8" r="9.4"/><circle cx="695.1" cy="1964.8" r="9.4"/><circle cx="694.9" cy="1961.1" r="9.4"/><circle cx="692" cy="1952" r="9.4"/><circle cx="691.3" cy="1946.4" r="9.4"/><circle cx="685.1" cy="1942.1" r="9.4"/><circle cx="678.7" cy="1940.6" r="9.4"/><circle cx="670" cy="1938.5" r="9.4"/><circle cx="665.9" cy="1937" r="9.4"/><circle cx="658.8" cy="1936.6" r="9.4"/><circle cx="653.6" cy="1934.5" r="9.4"/><circle cx="648.8" cy="1935.5" r="9.4"/><circle cx="640" cy="1933.7" r="9.4"/><circle cx="632.7" cy="1935.7" r="9.4"/><circle cx="628.3" cy="1939.6" r="9.4"/><circle cx="620.6" cy="1939.1" r="9.4"/><circle cx="616.7" cy="1934.1" r="9.4"/><circle cx="614.9" cy="1930" r="9.4"/><circle cx="613.8" cy="1923.9" r="9.4"/><circle cx="613.4" cy="1916.7" r="9.4"/><circle cx="617.8" cy="1912.6" r="9.4"/><circle cx="622.6" cy="1908" r="9.4"/><circle cx="623.6" cy="1906.5" r="9.4"/><circle cx="626.8" cy="1896.8" r="9.4"/><circle cx="626.5" cy="1892.9" r="9.4"/><circle cx="629" cy="1887.8" r="9.4"/><circle cx="623" cy="1878.5" r="9.4"/><circle cx="620.2" cy="1873.2" r="9.4"/><circle cx="618.3" cy="1868.1" r="9.4"/><circle cx="617.7" cy="1862.1" r="9.4"/><circle cx="612.1" cy="1854.9" r="9.4"/><circle cx="611.2" cy="1849" r="9.4"/><circle cx="612.1" cy="1843.1" r="9.4"/><circle cx="613.3" cy="1835.8" r="9.4"/><circle cx="614.9" cy="1829.4" r="9.4"/><circle cx="616.9" cy="1828" r="9.4"/><circle cx="619.5" cy="1820.4" r="9.4"/><circle cx="611.2" cy="1815.4" r="9.4"/><circle cx="607.5" cy="1813.6" r="9.4"/><circle cx="606.1" cy="1806" r="9.4"/><circle cx="610.9" cy="1801.8" r="9.4"/><circle cx="615.2" cy="1798.7" r="9.4"/><circle cx="625.3" cy="1796.6" r="9.4"/><circle cx="626.8" cy="1798.8" r="9.4"/><circle cx="634.9" cy="1798.1" r="9.4"/><circle cx="641.5" cy="1799.6" r="9.4"/><circle cx="639.5" cy="1794.9" r="9.4"/><circle cx="634.8" cy="1791.8" r="9.4"/><circle cx="625" cy="1787.5" r="9.4"/><circle cx="621.5" cy="1786.9" r="9.4"/><circle cx="618.5" cy="1780.2" r="9.4"/><circle cx="614" cy="1777.1" r="9.4"/><circle cx="612.4" cy="1768.6" r="9.4"/><circle cx="609.5" cy="1766.3" r="9.4"/><circle cx="601.2" cy="1765.9" r="9.4"/><circle cx="594.4" cy="1764.9" r="9.4"/><circle cx="590.3" cy="1759.3" r="9.4"/><circle cx="586.2" cy="1754.4" r="9.4"/><circle cx="585.9" cy="1747.8" r="9.4"/><circle cx="581.3" cy="1744.3" r="9.4"/><circle cx="578.5" cy="1747.7" r="9.4"/><circle cx="578.2" cy="1754.4" r="9.4"/><circle cx="573.3" cy="1761.9" r="9.4"/><circle cx="572.6" cy="1765.9" r="9.4"/><circle cx="575.1" cy="1771.8" r="9.4"/><circle cx="576.7" cy="1776.8" r="9.4"/><circle cx="579.3" cy="1784.4" r="9.4"/><circle cx="582.3" cy="1788.3" r="9.4"/><circle cx="580.1" cy="1796.5" r="9.4"/><circle cx="578.8" cy="1803" r="9.4"/><circle cx="577.9" cy="1807.7" r="9.4"/><circle cx="573" cy="1813.7" r="9.4"/><circle cx="570.8" cy="1819.8" r="9.4"/><circle cx="568.5" cy="1824.4" r="9.4"/><circle cx="565.9" cy="1831.6" r="9.4"/><circle cx="564.2" cy="1836.7" r="9.4"/><circle cx="562.4" cy="1846.3" r="9.4"/><circle cx="563.3" cy="1853.7" r="9.4"/><circle cx="562.9" cy="1859" r="9.4"/><circle cx="563.9" cy="1863.8" r="9.4"/><circle cx="561.8" cy="1870.2" r="9.4"/><circle cx="559.5" cy="1875.9" r="9.4"/><circle cx="561.2" cy="1880.9" r="9.4"/><circle cx="559.9" cy="1888.2" r="9.4"/><circle cx="559.3" cy="1895.1" r="9.4"/><circle cx="560.2" cy="1902.5" r="9.4"/><circle cx="556.5" cy="1911.5" r="9.4"/><circle cx="555.9" cy="1916.4" r="9.4"/><circle cx="553.9" cy="1923.6" r="9.4"/><circle cx="549.6" cy="1929.9" r="9.4"/><circle cx="549.7" cy="1933.2" r="9.4"/><circle cx="548.5" cy="1941.6" r="9.4"/><circle cx="549.1" cy="1945.4" r="9.4"/><circle cx="546.2" cy="1950.6" r="9.4"/><circle cx="543.7" cy="1959.8" r="9.4"/><circle cx="543.3" cy="1968" r="9.4"/><circle cx="540.7" cy="1974.1" r="9.4"/><circle cx="541.1" cy="1979.9" r="9.4"/><circle cx="537.9" cy="1987.9" r="9.4"/><circle cx="536" cy="1991.6" r="9.4"/><circle cx="533.7" cy="1996.8" r="9.4"/><circle cx="531.7" cy="2002.7" r="9.4"/><circle cx="527.7" cy="2009.4" r="9.4"/><circle cx="527" cy="2016.2" r="9.4"/><circle cx="523.7" cy="2020.8" r="9.4"/><circle cx="519.3" cy="2025.1" r="9.4"/><circle cx="510.2" cy="2027" r="9.4"/><circle cx="505.3" cy="2026.1" r="9.4"/><circle cx="500.5" cy="2027.6" r="9.4"/><circle cx="494.9" cy="2024.6" r="9.4"/><circle cx="491.8" cy="2018.8" r="9.4"/><circle cx="486.9" cy="2012.9" r="9.4"/><circle cx="483.6" cy="2008.7" r="9.4"/><circle cx="481.5" cy="2002.6" r="9.4"/><circle cx="478" cy="1996.5" r="9.4"/><circle cx="476.4" cy="1989" r="9.4"/><circle cx="473" cy="1983.5" r="9.4"/><circle cx="472.1" cy="1979.1" r="9.4"/><circle cx="469.2" cy="1970.7" r="9.4"/><circle cx="466.3" cy="1966.2" r="9.4"/><circle cx="462.3" cy="1959.6" r="9.4"/><circle cx="462.4" cy="1952" r="9.4"/><circle cx="461.5" cy="1946.5" r="9.4"/><circle cx="460.8" cy="1943.3" r="9.4"/><circle cx="455.9" cy="1938.5" r="9.4"/><circle cx="449" cy="1936.4" r="9.4"/><circle cx="442.6" cy="1935.2" r="9.4"/><circle cx="435.3" cy="1938.3" r="9.4"/><circle cx="429.9" cy="1941.5" r="9.4"/><circle cx="433.9" cy="1948.3" r="9.4"/><circle cx="435" cy="1955.3" r="9.4"/><circle cx="437.1" cy="1957.8" r="9.4"/><circle cx="441.1" cy="1968.3" r="9.4"/><circle cx="438.1" cy="1972.7" r="9.4"/><circle cx="435" cy="1977.5" r="9.4"/><circle cx="429.6" cy="1980.4" r="9.4"/><circle cx="424.4" cy="1977.6" r="9.4"/><circle cx="417.1" cy="1974" r="9.4"/><circle cx="413.5" cy="1974.4" r="9.4"/><circle cx="410.6" cy="1978.7" r="9.4"/><circle cx="401" cy="1980.1" r="9.4"/><circle cx="397.3" cy="1980.2" r="9.4"/><circle cx="401.2" cy="1983.1" r="9.4"/><circle cx="401.3" cy="1990.8" r="9.4"/><circle cx="400.9" cy="1992.3" r="9.4"/><circle cx="406.1" cy="2000.5" r="9.4"/><circle cx="412.3" cy="2002.8" r="9.4"/><circle cx="415.8" cy="2008.4" r="9.4"/><circle cx="418.4" cy="2011.4" r="9.4"/><circle cx="417.1" cy="2018.2" r="9.4"/><circle cx="407.7" cy="2024.4" r="9.4"/><circle cx="404" cy="2025.6" r="9.4"/><circle cx="399.2" cy="2027.5" r="9.4"/><circle cx="390.7" cy="2027.7" r="9.4"/><circle cx="386.9" cy="2025.4" r="9.4"/><circle cx="393.3" cy="1975.7" r="9.4"/><circle cx="390" cy="1966.7" r="9.4"/><circle cx="387.8" cy="1968.5" r="9.4"/></g>
<g fill="#d4d4d4"><circle cx="417.8" cy="1854.2" r="9.6"/><circle cx="419.3" cy="1886.7" r="9.6"/><circle cx="448.1" cy="1881.3" r="9.6"/><circle cx="437.3" cy="1904.7" r="9.6"/><circle cx="430.1" cy="1913.7" r="9.6"/><circle cx="412.1" cy="1926.3" r="9.6"/><circle cx="388.6" cy="1965.9" r="9.6"/><circle cx="394.1" cy="1978.6" r="9.6"/><circle cx="401.3" cy="1993" r="9.6"/><circle cx="385" cy="2029" r="9.6"/><circle cx="621.5" cy="1504.4" r="9.6"/><circle cx="600.1" cy="1524.1" r="9.6"/><circle cx="618.1" cy="1541.4" r="9.6"/><circle cx="599.4" cy="1608.2" r="9.6"/><circle cx="635.4" cy="1605.8" r="9.6"/><circle cx="612.6" cy="1676.6" r="9.6"/><circle cx="593.4" cy="1697.1" r="9.6"/><circle cx="610.2" cy="1698.3" r="9.6"/><circle cx="591.4" cy="1705.5" r="9.6"/><circle cx="611.4" cy="1719.9" r="9.6"/><circle cx="583.8" cy="1745.1" r="9.6"/><circle cx="578.9" cy="1761.9" r="9.6"/><circle cx="593.4" cy="1764.3" r="9.6"/><circle cx="611.4" cy="1766.7" r="9.6"/><circle cx="611.9" cy="1720" r="9.6"/><circle cx="583.1" cy="1745.2" r="9.6"/><circle cx="574.1" cy="1765" r="9.6"/><circle cx="592.1" cy="1765" r="9.6"/><circle cx="611.9" cy="1767.7" r="9.6"/><circle cx="580.4" cy="1781.3" r="9.6"/><circle cx="618.2" cy="1788.5" r="9.6"/><circle cx="628.1" cy="1792.1" r="9.6"/><circle cx="642.5" cy="1796.6" r="9.6"/><circle cx="661.4" cy="1815.5" r="9.6"/><circle cx="640.7" cy="1869.5" r="9.6"/><circle cx="650.6" cy="1889.4" r="9.6"/><circle cx="664.1" cy="1900.2" r="9.6"/><circle cx="641.6" cy="1927.2" r="9.6"/><circle cx="670.5" cy="1925.4" r="9.6"/><circle cx="702" cy="1936.2" r="9.6"/><circle cx="725.4" cy="1944.3" r="9.6"/><circle cx="711" cy="1947" r="9.6"/><circle cx="651.7" cy="1890.8" r="9.6"/><circle cx="664.3" cy="1901.6" r="9.6"/><circle cx="641.8" cy="1926.8" r="9.6"/><circle cx="670.6" cy="1924.1" r="9.6"/><circle cx="703.1" cy="1935.9" r="9.6"/><circle cx="713" cy="1941.3" r="9.6"/><circle cx="726.5" cy="1943.1" r="9.6"/><circle cx="714.8" cy="1970.1" r="9.6"/><circle cx="720.2" cy="1998" r="9.6"/><circle cx="703.1" cy="2022.3" r="9.6"/></g>
<g fill="#efbc7d"><circle cx="410.6" cy="1652.6" r="9.7"/><circle cx="446.7" cy="1907.4" r="9.7"/><circle cx="456.2" cy="1911.9" r="9.7"/><circle cx="460.4" cy="1940.4" r="9.7"/></g>
<g fill="#fb2e8b"><circle cx="623.4" cy="1513.8" r="10"/><circle cx="596.2" cy="1605" r="10"/><circle cx="618.1" cy="1679.8" r="10"/><circle cx="616.4" cy="1732.4" r="10"/><circle cx="663.8" cy="1842.2" r="10"/><circle cx="607.4" cy="1866.8" r="10"/><circle cx="614.6" cy="1867.4" r="10"/><circle cx="547.2" cy="1967.7" r="10"/><circle cx="649" cy="1968.3" r="10"/><circle cx="697.7" cy="1962" r="10"/></g>
<rect x="960" y="1331.5" width="275.4" height="69.6" fill="#e5aa3f"/>
<rect x="1303.3" y="1331.5" width="275.6" height="69.6" fill="#dc1ffb"/>
<text x="1097.5" y="1377.5" font-size="30.5" class="a" text-anchor="middle">Cluster 1</text>
<text x="1441" y="1377.5" font-size="30.5" class="a" text-anchor="middle">Cluster 6</text>
<path d="M958.7 1400.8V1493.3M958.7 1540.2V2029.3H1585.3" fill="none" stroke="#000" stroke-width="3"/>
<path d="M943.5 1493.3H974.5M943.5 1540.2H974.5" fill="none" stroke="#000" stroke-width="3"/>
<line x1="949.5" y1="1402.3" x2="958.7" y2="1402.3" stroke="#000" stroke-width="3"/>
<text x="941.3" y="1412.8" font-size="30.5" class="a" text-anchor="end">80</text>
<line x1="949.5" y1="1493.3" x2="958.7" y2="1493.3" stroke="#000" stroke-width="3"/>
<text x="941.3" y="1503.8" font-size="30.5" class="a" text-anchor="end">40</text>
<line x1="949.5" y1="1540.2" x2="958.7" y2="1540.2" stroke="#000" stroke-width="3"/>
<text x="941.3" y="1550.7" font-size="30.5" class="a" text-anchor="end">40</text>
<line x1="949.5" y1="1662.8" x2="958.7" y2="1662.8" stroke="#000" stroke-width="3"/>
<text x="941.3" y="1673.3" font-size="30.5" class="a" text-anchor="end">30</text>
<line x1="949.5" y1="1785.1" x2="958.7" y2="1785.1" stroke="#000" stroke-width="3"/>
<text x="941.3" y="1795.6" font-size="30.5" class="a" text-anchor="end">20</text>
<line x1="949.5" y1="1907.2" x2="958.7" y2="1907.2" stroke="#000" stroke-width="3"/>
<text x="941.3" y="1917.7" font-size="30.5" class="a" text-anchor="end">10</text>
<line x1="949.5" y1="2029.3" x2="958.7" y2="2029.3" stroke="#000" stroke-width="3"/>
<text x="941.3" y="2039.8" font-size="30.5" class="a" text-anchor="end">0</text>
<line x1="958.7" y1="2029.3" x2="958.7" y2="2039" stroke="#000" stroke-width="3"/>
<text x="958.7" y="2074" font-size="30.5" class="a" text-anchor="middle">-10</text>
<line x1="1114.8" y1="2029.3" x2="1114.8" y2="2039" stroke="#000" stroke-width="3"/>
<text x="1114.8" y="2074" font-size="30.5" class="a" text-anchor="middle">-5</text>
<line x1="1271" y1="2029.3" x2="1271" y2="2039" stroke="#000" stroke-width="3"/>
<text x="1271" y="2074" font-size="30.5" class="a" text-anchor="middle">0</text>
<line x1="1427.3" y1="2029.3" x2="1427.3" y2="2039" stroke="#000" stroke-width="3"/>
<text x="1427.3" y="2074" font-size="30.5" class="a" text-anchor="middle">5</text>
<line x1="1583.8" y1="2029.3" x2="1583.8" y2="2039" stroke="#000" stroke-width="3"/>
<text x="1583.8" y="2074" font-size="30.5" class="a" text-anchor="middle">10</text>
<text x="1271.5" y="2115.2" font-size="30.5" class="a" text-anchor="middle">Log2 Fold Change</text>
<text transform="translate(886.5,1724.5) rotate(-90)" font-size="30.5" class="a" text-anchor="middle">-Log10 (P-value)</text>
<line x1="1239.9" y1="1403.5" x2="1239.9" y2="2005" stroke="#000" stroke-width="6" stroke-linecap="round" stroke-dasharray="0 19.1"/>
<line x1="1302.8" y1="1403.5" x2="1302.8" y2="2005" stroke="#000" stroke-width="6" stroke-linecap="round" stroke-dasharray="0 19.1"/>
<line x1="957.3" y1="2014" x2="1575" y2="2014" stroke="#000" stroke-width="6" stroke-linecap="round" stroke-dasharray="0 19.1"/>
<path d="M1113.2 1958.4L1113.2 1961.1L1124.1 1976.3L1124.4 1976.8L1133.4 1991.2L1146.8 2002.9L1162.8 2009.1L1163.6 2009.5L1164.2 2009.9L1164.9 2010.3L1165.5 2010.8L1166 2011.4L1166.5 2012L1166.9 2012.7L1167.3 2013.4L1167.6 2014.2L1167.8 2014.9L1167.9 2015.7L1167.9 2016.5L1167.9 2017.3L1167.8 2018.1L1167.6 2018.8L1167.4 2019.6L1167 2020.3L1166.6 2021L1166.2 2021.6L1165.6 2022.2L1165 2022.7L1164.4 2023.2L1163.7 2023.6L1163 2024L1162.3 2024.2L1161.5 2024.4L1155.6 2025.6L1153.5 2029.4L1163.8 2031.5L1300 2031.5L1300 2031.5L1420.5 2031.9L1421 2019.3L1421.1 2018.5L1421.2 2017.7L1421.4 2017L1421.7 2016.3L1422.1 2015.6L1422.5 2014.9L1430.3 2004L1430.8 2003.4L1431.3 2002.8L1431.9 2002.3L1432.5 2001.9L1433.2 2001.5L1433.9 2001.2L1434.7 2000.9L1435.5 2000.8L1436.2 2000.7L1437 2000.7L1437.8 2000.7L1438.6 2000.9L1439.3 2001.1L1445.7 2003.2L1453 2000L1453.9 1994.8L1454.1 1994L1454.3 1993.2L1460.2 1978.5L1461.1 1972.4L1453 1964.3L1452.5 1963.7L1452 1963.1L1451.6 1962.4L1451.2 1961.7L1451 1960.9L1450.8 1960.2L1450.7 1959.4L1450.7 1958.6L1450.7 1957.8L1450.8 1957L1451 1956.2L1451.3 1955.5L1451.7 1954.8L1452.1 1954.1L1452.6 1953.5L1453.1 1952.9L1453.7 1952.4L1454.4 1951.9L1455.1 1951.5L1472.6 1942.7L1486 1929.4L1488.3 1922.6L1489.4 1911.4L1481.8 1902.7L1473.8 1898.7L1473.2 1898.3L1472.5 1897.9L1472 1897.4L1471.4 1896.9L1471 1896.3L1470.5 1895.7L1470.2 1895L1469.9 1894.3L1469.7 1893.6L1469.5 1892.8L1466.5 1874.7L1464.3 1868.2L1462 1866.3L1459.7 1867.2L1451.3 1874.2L1450.6 1874.7L1450 1875.1L1449.2 1875.5L1448.5 1875.7L1447.7 1875.9L1446.9 1876.1L1446.1 1876.1L1445.4 1876.1L1430.5 1874.6L1417.2 1875.9L1411.2 1878.9L1407.7 1884.7L1407.3 1885.4L1406.8 1886L1406.2 1886.5L1405.7 1887L1405 1887.4L1404.3 1887.8L1403.6 1888.1L1402.9 1888.3L1402.1 1888.5L1401.3 1888.6L1400.6 1888.6L1399.8 1888.5L1399 1888.4L1398.3 1888.2L1397.6 1887.9L1396.9 1887.5L1396.2 1887.1L1395.6 1886.6L1395.1 1886.1L1394.5 1885.5L1394.1 1884.8L1393.7 1884.2L1390.7 1878.1L1381.8 1875.9L1380.9 1875.6L1370.9 1871.8L1362.6 1874.2L1355.8 1876.5L1351.4 1882.3L1349.4 1894.4L1349.2 1895.2L1348.9 1896.1L1342.7 1911.7L1342.4 1912.3L1333.3 1930.5L1327.2 1948.7L1326.8 1949.8L1317.5 1968.4L1306.6 1991.7L1297.3 2012L1294.1 2019L1293.7 2019.7L1293.2 2020.4L1292.7 2021L1292.1 2021.6L1291.5 2022.1L1290.8 2022.5L1290.1 2022.9L1289.3 2023.2L1277.8 2027L1277.1 2027.2L1276.4 2027.4L1275.7 2027.4L1275 2027.5L1274.3 2027.4L1258.9 2025.5L1258 2025.3L1257.1 2025L1256.3 2024.7L1240.9 2017L1240.2 2016.6L1239.5 2016.1L1238.9 2015.5L1217.7 1994.4L1217.2 1993.8L1216.7 1993.1L1209 1981.6L1208.7 1981L1208.4 1980.4L1205.3 1973.5L1201 1969.9L1200.3 1969.3L1199.8 1968.7L1199.3 1968L1198.9 1967.2L1198.6 1966.5L1198.3 1965.7L1195.7 1955.3L1191.2 1947.7L1184.8 1942L1173.9 1938.7L1173.2 1938.4L1172.5 1938.1L1171.9 1937.7L1171.2 1937.3L1170.7 1936.7L1170.2 1936.2L1169.7 1935.6L1169.3 1934.9L1169 1934.2L1168.7 1933.5L1168.5 1932.8L1168.3 1932L1168.3 1931.3L1168.3 1930.5L1168.4 1929.7L1169.6 1922.8L1163.7 1918L1162.1 1919.7L1164.7 1928.9L1164.9 1929.6L1165 1930.4L1165 1931.2L1165 1931.9L1164.9 1932.7L1164.7 1933.5L1164.4 1934.2L1160.1 1944.3L1162.3 1948.6L1162.6 1949.4L1162.9 1950.2L1163 1951L1163.1 1951.8L1163.1 1952.7L1163 1953.5L1160.1 1970.8L1160 1971.6L1159.7 1972.3L1159.4 1973L1159 1973.7L1158.6 1974.4L1158.1 1975L1157.5 1975.5L1149.8 1982.2L1149.2 1982.7L1148.6 1983.1L1147.9 1983.5L1147.1 1983.8L1146.4 1984L1145.6 1984.1L1144.8 1984.2L1144 1984.2L1143.3 1984.1L1142.5 1983.9L1141.8 1983.7L1134.1 1980.8L1133.3 1980.5L1132.6 1980.1L1132 1979.6L1131.4 1979.1L1130.8 1978.5L1119.4 1965.2L1113.2 1958.4Z" fill="#d4d4d4" stroke="#d4d4d4" stroke-width="10.3" stroke-linejoin="round"/>
<g fill="#d4d4d4"><circle cx="1113.8" cy="1961.9" r="9.4"/><circle cx="1116.4" cy="1963" r="9.4"/><circle cx="1120.2" cy="1972.8" r="9.4"/><circle cx="1124" cy="1976.5" r="9.4"/><circle cx="1126.2" cy="1982.6" r="9.4"/><circle cx="1133.2" cy="1988.6" r="9.4"/><circle cx="1134.7" cy="1992.4" r="9.4"/><circle cx="1137.7" cy="1995.7" r="9.4"/><circle cx="1145.2" cy="2000" r="9.4"/><circle cx="1150.5" cy="2004.4" r="9.4"/><circle cx="1156.4" cy="2007.2" r="9.4"/><circle cx="1163.9" cy="2009.4" r="9.4"/><circle cx="1168.1" cy="2013" r="9.4"/><circle cx="1166.8" cy="2019.1" r="9.4"/><circle cx="1165.6" cy="2023.5" r="9.4"/><circle cx="1158" cy="2023.6" r="9.4"/><circle cx="1153.4" cy="2029.4" r="9.4"/><circle cx="1160.8" cy="2031.2" r="9.4"/><circle cx="1168.3" cy="2030.2" r="9.4"/><circle cx="1171.9" cy="2030.7" r="9.4"/><circle cx="1180.8" cy="2031.6" r="9.4"/><circle cx="1186.1" cy="2031.2" r="9.4"/><circle cx="1194.8" cy="2033.5" r="9.4"/><circle cx="1200.7" cy="2031.1" r="9.4"/><circle cx="1205" cy="2031.4" r="9.4"/><circle cx="1213.1" cy="2031.9" r="9.4"/><circle cx="1220.8" cy="2031" r="9.4"/><circle cx="1225" cy="2030.1" r="9.4"/><circle cx="1234.7" cy="2033" r="9.4"/><circle cx="1236.9" cy="2031" r="9.4"/><circle cx="1244.6" cy="2031.3" r="9.4"/><circle cx="1252.4" cy="2031.1" r="9.4"/><circle cx="1258" cy="2030.9" r="9.4"/><circle cx="1266.6" cy="2031.7" r="9.4"/><circle cx="1270.1" cy="2031.3" r="9.4"/><circle cx="1281.4" cy="2031.8" r="9.4"/><circle cx="1282.6" cy="2033.3" r="9.4"/><circle cx="1290.3" cy="2032.9" r="9.4"/><circle cx="1299.2" cy="2032.1" r="9.4"/><circle cx="1303.4" cy="2031.7" r="9.4"/><circle cx="1311" cy="2031.3" r="9.4"/><circle cx="1317.4" cy="2031.7" r="9.4"/><circle cx="1324.5" cy="2029.6" r="9.4"/><circle cx="1332.1" cy="2030.4" r="9.4"/><circle cx="1336.7" cy="2033.1" r="9.4"/><circle cx="1343.2" cy="2032.2" r="9.4"/><circle cx="1352" cy="2032.6" r="9.4"/><circle cx="1355.4" cy="2031.6" r="9.4"/><circle cx="1364.3" cy="2033" r="9.4"/><circle cx="1370" cy="2031.9" r="9.4"/><circle cx="1374.3" cy="2031.8" r="9.4"/><circle cx="1382" cy="2032.5" r="9.4"/><circle cx="1390.7" cy="2031.6" r="9.4"/><circle cx="1397.2" cy="2032.8" r="9.4"/><circle cx="1399.5" cy="2031.1" r="9.4"/><circle cx="1409.2" cy="2031.3" r="9.4"/><circle cx="1414.4" cy="2031.8" r="9.4"/><circle cx="1419.2" cy="2032" r="9.4"/><circle cx="1420.8" cy="2024" r="9.4"/><circle cx="1421" cy="2019.9" r="9.4"/><circle cx="1423.6" cy="2012.6" r="9.4"/><circle cx="1428.8" cy="2008.7" r="9.4"/><circle cx="1433.5" cy="2000.4" r="9.4"/><circle cx="1438.2" cy="2000.7" r="9.4"/><circle cx="1443.7" cy="2002.6" r="9.4"/><circle cx="1449.2" cy="2001" r="9.4"/><circle cx="1454.8" cy="1995.7" r="9.4"/><circle cx="1456.1" cy="1990.9" r="9.4"/><circle cx="1457.2" cy="1985.7" r="9.4"/><circle cx="1460.9" cy="1977.6" r="9.4"/><circle cx="1460.1" cy="1973.8" r="9.4"/><circle cx="1456.3" cy="1968.6" r="9.4"/><circle cx="1452.4" cy="1964.6" r="9.4"/><circle cx="1453.2" cy="1955.4" r="9.4"/><circle cx="1453.5" cy="1951.6" r="9.4"/><circle cx="1461" cy="1947.7" r="9.4"/><circle cx="1465.7" cy="1946.4" r="9.4"/><circle cx="1472.4" cy="1940.1" r="9.4"/><circle cx="1479.3" cy="1937.8" r="9.4"/><circle cx="1482.5" cy="1931.6" r="9.4"/><circle cx="1484.4" cy="1929.7" r="9.4"/><circle cx="1487" cy="1923.2" r="9.4"/><circle cx="1489.8" cy="1912.3" r="9.4"/><circle cx="1487.2" cy="1909.5" r="9.4"/><circle cx="1483.9" cy="1906.1" r="9.4"/><circle cx="1479.4" cy="1900.3" r="9.4"/><circle cx="1472.7" cy="1897.9" r="9.4"/><circle cx="1469.8" cy="1891.8" r="9.4"/><circle cx="1470.4" cy="1889.3" r="9.4"/><circle cx="1466.9" cy="1878" r="9.4"/><circle cx="1466.6" cy="1876" r="9.4"/><circle cx="1462.2" cy="1867.8" r="9.4"/><circle cx="1457.5" cy="1866.8" r="9.4"/><circle cx="1453.6" cy="1873.8" r="9.4"/><circle cx="1447" cy="1878" r="9.4"/><circle cx="1441.4" cy="1874.8" r="9.4"/><circle cx="1433.3" cy="1873.6" r="9.4"/><circle cx="1429.8" cy="1874.7" r="9.4"/><circle cx="1422" cy="1875.2" r="9.4"/><circle cx="1414.8" cy="1876.7" r="9.4"/><circle cx="1411.5" cy="1880.2" r="9.4"/><circle cx="1407.8" cy="1885.4" r="9.4"/><circle cx="1399.6" cy="1887.2" r="9.4"/><circle cx="1394.7" cy="1886.8" r="9.4"/><circle cx="1391.2" cy="1879.4" r="9.4"/><circle cx="1388" cy="1877.2" r="9.4"/><circle cx="1381.4" cy="1874.4" r="9.4"/><circle cx="1376" cy="1873.2" r="9.4"/><circle cx="1366.5" cy="1871.4" r="9.4"/><circle cx="1362.7" cy="1875.7" r="9.4"/><circle cx="1356.1" cy="1878.3" r="9.4"/><circle cx="1352.8" cy="1883" r="9.4"/><circle cx="1350.1" cy="1885.2" r="9.4"/><circle cx="1348.8" cy="1892.3" r="9.4"/><circle cx="1348" cy="1898.7" r="9.4"/><circle cx="1343.9" cy="1904.2" r="9.4"/><circle cx="1342.4" cy="1911.4" r="9.4"/><circle cx="1339.1" cy="1918.8" r="9.4"/><circle cx="1337" cy="1923.6" r="9.4"/><circle cx="1334.2" cy="1931.7" r="9.4"/><circle cx="1330.1" cy="1937.3" r="9.4"/><circle cx="1329.5" cy="1942.4" r="9.4"/><circle cx="1327.2" cy="1947.2" r="9.4"/><circle cx="1326.4" cy="1953.1" r="9.4"/><circle cx="1320.3" cy="1962" r="9.4"/><circle cx="1317.4" cy="1965.6" r="9.4"/><circle cx="1315.9" cy="1969.6" r="9.4"/><circle cx="1313.5" cy="1977.1" r="9.4"/><circle cx="1309.7" cy="1985.5" r="9.4"/><circle cx="1307" cy="1989.2" r="9.4"/><circle cx="1305.8" cy="1996.8" r="9.4"/><circle cx="1300.8" cy="1999.9" r="9.4"/><circle cx="1298.8" cy="2007.2" r="9.4"/><circle cx="1297" cy="2011.7" r="9.4"/><circle cx="1294.9" cy="2017.6" r="9.4"/><circle cx="1288.2" cy="2023.9" r="9.4"/><circle cx="1285.3" cy="2025.3" r="9.4"/><circle cx="1278.2" cy="2026.9" r="9.4"/><circle cx="1270.4" cy="2026.4" r="9.4"/><circle cx="1264.8" cy="2025.8" r="9.4"/><circle cx="1259.8" cy="2026" r="9.4"/><circle cx="1251.1" cy="2022.9" r="9.4"/><circle cx="1245.6" cy="2021" r="9.4"/><circle cx="1238.7" cy="2017.7" r="9.4"/><circle cx="1237.8" cy="2011.5" r="9.4"/><circle cx="1230.5" cy="2006" r="9.4"/><circle cx="1226" cy="2000.7" r="9.4"/><circle cx="1220.9" cy="1995.3" r="9.4"/><circle cx="1217" cy="1993.6" r="9.4"/><circle cx="1213.8" cy="1989.4" r="9.4"/><circle cx="1208.5" cy="1982.7" r="9.4"/><circle cx="1207.3" cy="1978.1" r="9.4"/><circle cx="1205.6" cy="1973.3" r="9.4"/><circle cx="1201.1" cy="1967.2" r="9.4"/><circle cx="1195.9" cy="1960.9" r="9.4"/><circle cx="1196.4" cy="1955.4" r="9.4"/><circle cx="1192.5" cy="1950" r="9.4"/><circle cx="1188.7" cy="1945.2" r="9.4"/><circle cx="1184.1" cy="1942.3" r="9.4"/><circle cx="1176.7" cy="1940.3" r="9.4"/><circle cx="1171.4" cy="1938.7" r="9.4"/><circle cx="1167.1" cy="1932.6" r="9.4"/><circle cx="1170.2" cy="1927.5" r="9.4"/><circle cx="1166" cy="1919.6" r="9.4"/><circle cx="1163" cy="1920.7" r="9.4"/><circle cx="1164" cy="1927.9" r="9.4"/><circle cx="1163" cy="1936.3" r="9.4"/><circle cx="1161.1" cy="1941.9" r="9.4"/><circle cx="1160" cy="1945.5" r="9.4"/><circle cx="1164.8" cy="1953.5" r="9.4"/><circle cx="1161.3" cy="1958.6" r="9.4"/><circle cx="1163.2" cy="1964.3" r="9.4"/><circle cx="1161.7" cy="1969" r="9.4"/><circle cx="1155.9" cy="1977.7" r="9.4"/><circle cx="1151" cy="1981.4" r="9.4"/><circle cx="1146.9" cy="1984.2" r="9.4"/><circle cx="1141.1" cy="1983.9" r="9.4"/><circle cx="1135.2" cy="1981.1" r="9.4"/><circle cx="1128.5" cy="1977.4" r="9.4"/><circle cx="1125.6" cy="1972.6" r="9.4"/><circle cx="1122.9" cy="1966.6" r="9.4"/><circle cx="1115.4" cy="1959.9" r="9.4"/></g>
<g fill="#d4d4d4"><circle cx="1113.8" cy="1938.7" r="9.6"/><circle cx="1113.8" cy="1960.8" r="9.6"/><circle cx="1162.8" cy="1916.6" r="9.6"/><circle cx="1169.6" cy="1920.5" r="9.6"/><circle cx="1167.6" cy="1936.8" r="9.6"/><circle cx="1188.8" cy="1944.5" r="9.6"/><circle cx="1156.1" cy="2028.1" r="9.6"/><circle cx="1407.6" cy="1661.7" r="9.6"/><circle cx="1419.2" cy="1663.6" r="9.6"/><circle cx="1443.8" cy="1673.2" r="9.6"/><circle cx="1427.8" cy="1682.9" r="9.6"/><circle cx="1434.5" cy="1692.5" r="9.6"/><circle cx="1403.4" cy="1699.2" r="9.6"/><circle cx="1386.9" cy="1712.3" r="9.6"/><circle cx="1403.8" cy="1711.7" r="9.6"/><circle cx="1490.3" cy="1726.1" r="9.6"/><circle cx="1415.3" cy="1738.6" r="9.6"/><circle cx="1390.7" cy="1748.2" r="9.6"/><circle cx="1436.1" cy="1751.1" r="9.6"/><circle cx="1454.7" cy="1746.3" r="9.6"/><circle cx="1382.6" cy="1789.5" r="9.6"/><circle cx="1374" cy="1795.3" r="9.6"/><circle cx="1425.9" cy="1804.9" r="9.6"/><circle cx="1384.6" cy="1820.3" r="9.6"/><circle cx="1359.6" cy="1829.9" r="9.6"/><circle cx="1376.9" cy="1829.9" r="9.6"/><circle cx="1369.2" cy="1845.3" r="9.6"/><circle cx="1395.1" cy="1841.4" r="9.6"/><circle cx="1404.7" cy="1845.3" r="9.6"/><circle cx="1415.3" cy="1851" r="9.6"/><circle cx="1426.8" cy="1848.1" r="9.6"/><circle cx="1463.4" cy="1867.4" r="9.6"/><circle cx="1373" cy="1874.1" r="9.6"/><circle cx="1390.3" cy="1877.9" r="9.6"/><circle cx="1411.5" cy="1877.9" r="9.6"/><circle cx="1444.1" cy="1877.9" r="9.6"/><circle cx="1477.2" cy="1484.6" r="9.6"/><circle cx="1520.6" cy="1901.3" r="9.6"/><circle cx="1463.9" cy="1903.2" r="9.6"/><circle cx="1484.1" cy="1908" r="9.6"/><circle cx="1463" cy="1863.8" r="9.6"/><circle cx="1529.3" cy="1999.3" r="9.6"/><circle cx="1510.6" cy="2011.8" r="9.6"/><circle cx="1461.6" cy="2018.6" r="9.6"/><circle cx="1459.1" cy="1967.6" r="9.6"/><circle cx="1453.4" cy="2002.2" r="9.6"/></g>
<g fill="#efbc7d"><circle cx="1113.8" cy="1818" r="9.7"/><circle cx="1129.8" cy="1909" r="9.7"/><circle cx="1193.6" cy="1961.4" r="9.7"/></g>
<g fill="#dc1ffb"><circle cx="1491.6" cy="1425.2" r="10"/><circle cx="1463" cy="1462.6" r="10"/><circle cx="1426.3" cy="1643" r="10"/><circle cx="1443.2" cy="1725.7" r="10"/><circle cx="1571.6" cy="1742.4" r="10"/><circle cx="1379.8" cy="1806.4" r="10"/><circle cx="1501.8" cy="1848.5" r="10"/><circle cx="1503.2" cy="1882.3" r="10"/><circle cx="1395.3" cy="1901.3" r="10"/><circle cx="1397.6" cy="1914.8" r="10"/><circle cx="1427" cy="1899.4" r="10"/><circle cx="1423.2" cy="1918.6" r="10"/><circle cx="1425.5" cy="1939.8" r="10"/><circle cx="1424.5" cy="1982.6" r="10"/><circle cx="1432.2" cy="1985.3" r="10"/></g>
<text x="646.3" y="1523.2" font-size="26" class="a" font-style="italic">S100a4</text>
<text x="618.7" y="1611.8" font-size="26" class="a" font-style="italic">Rgs1</text>
<text x="640.8" y="1689.9" font-size="26" class="a" font-style="italic">Bhlhe40</text>
<text x="636" y="1744.6" font-size="26" class="a" font-style="italic">Ifng</text>
<text x="667.5" y="1835.2" font-size="26" class="a" font-style="italic">Ccl5</text>
<text x="572.1" y="1841.9" font-size="26" class="a" font-style="italic">Tbx21</text>
<text x="630.6" y="1882.1" font-size="26" class="a" font-style="italic">Cxcr6</text>
<text x="639.8" y="1949.3" font-size="26" class="a" font-style="italic">Klrg1</text>
<text x="535.1" y="1960.1" font-size="26" class="a" font-style="italic">Cd44</text>
<text x="714.6" y="1968.2" font-size="26" class="a" font-style="italic">Gzmb</text>
<text x="323.9" y="1632.8" font-size="30" class="a" font-style="italic">Igfbp4</text>
<text x="376.7" y="1883" font-size="30" class="a" font-style="italic">Dapl1</text>
<text x="376.4" y="1919" font-size="30" class="a" font-style="italic">Lef1</text>
<text x="398.4" y="1960.4" font-size="30" class="a" font-style="italic">Sell</text>
<text x="1" y="1310.7" font-size="51" class="a" font-weight="bold" stroke-width="0.2">d</text>
<text x="1380.6" y="1431.2" font-size="26" class="a" font-style="italic">S100a6</text>
<text x="1377.7" y="1491.1" font-size="26" class="a" font-style="italic">S100a4</text>
<text x="1360" y="1630.1" font-size="26" class="a" font-style="italic">Cxcr3</text>
<text x="1443.4" y="1712.5" font-size="26" class="a" font-style="italic">Nkg7</text>
<text x="1483.4" y="1750.9" font-size="26" class="a" font-style="italic">Gzmb</text>
<text x="1392.5" y="1802.8" font-size="26" class="a" font-style="italic">Icos</text>
<text x="1492.1" y="1839.3" font-size="26" class="a" font-style="italic">Klrg1</text>
<text x="1520.3" y="1890" font-size="26" class="a" font-style="italic">Ccl5</text>
<text x="1408.4" y="1885.8" font-size="26" class="a" font-style="italic">Gzmk</text>
<text x="1344.6" y="1885.8" font-size="26" class="a" font-style="italic">Ifng</text>
<text x="1439.8" y="1927.1" font-size="26" class="a" font-style="italic">Cdkn1a</text>
<text x="1326.9" y="1943.2" font-size="26" class="a" font-style="italic">Tbx21</text>
<text x="1445.5" y="1954.4" font-size="26" class="a" font-style="italic">Mki67</text>
<text x="1345.6" y="1991.5" font-size="26" class="a" font-style="italic">Pclaf</text>
<text x="1448" y="1993.8" font-size="26" class="a" font-style="italic">Birc5</text>
<text x="1088.7" y="1800.2" font-size="30" class="a" font-style="italic">Igfbp4</text>
<text x="1101.2" y="1893.4" font-size="30" class="a" font-style="italic">Dapl1</text>
<text x="1124.2" y="1970.3" font-size="30" class="a" font-style="italic">Sell</text>
<text x="3" y="2267" font-size="51" class="a" font-weight="bold" stroke-width="0.2">e</text>
<text x="42" y="2284" font-size="30.5" class="a" textLength="1277" lengthAdjust="spacing">CDR3 sequences of the three most expanded clones of InsB<tspan font-size="19" dy="8">12-20</tspan><tspan dy="-8">(C19S)-specific CD4</tspan><tspan font-size="19" dy="-10">+</tspan><tspan dy="10"> T cells</tspan></text>
<line x1="65.5" y1="2306" x2="1300" y2="2306" stroke="#000" stroke-width="3.6"/>
<line x1="65.5" y1="2400.2" x2="1300" y2="2400.2" stroke="#000" stroke-width="3.6"/>
<line x1="65.5" y1="2707.5" x2="1300" y2="2707.5" stroke="#000" stroke-width="3.6"/>
<text x="561.5" y="2364.3" font-size="30.5" class="a" text-anchor="middle">CDR3α</text>
<text x="1052.7" y="2364.3" font-size="30.5" class="a" text-anchor="middle">CDR3β</text>
<text x="108.5" y="2462.6" font-size="30.5" class="a">Clonotype 1</text>
<text x="561.5" y="2462.6" font-size="30.5" class="a" text-anchor="middle" letter-spacing="0.2">CAASGAGTGSNRLTF</text>
<text x="1053" y="2462.6" font-size="30.5" class="a" text-anchor="middle" letter-spacing="0.2">CASSQETGGQAPLF</text>
<text x="108.5" y="2565" font-size="30.5" class="a">Clonotype 2</text>
<text x="561.5" y="2565" font-size="30.5" class="a" text-anchor="middle" letter-spacing="0.2">CAASNTGKLTF</text>
<text x="1053" y="2565" font-size="30.5" class="a" text-anchor="middle" letter-spacing="0.2">CASSQENTYTGQLYF</text>
<text x="108.5" y="2668.3" font-size="30.5" class="a">Clonotype 3</text>
<text x="561.5" y="2668.3" font-size="30.5" class="a" text-anchor="middle" letter-spacing="0.2">CAASASGGSNYKLTF</text>
<text x="1053" y="2668.3" font-size="30.5" class="a" text-anchor="middle" letter-spacing="0.2">CASSQDRGGGNTLYF</text>
</svg>
</body></html>
